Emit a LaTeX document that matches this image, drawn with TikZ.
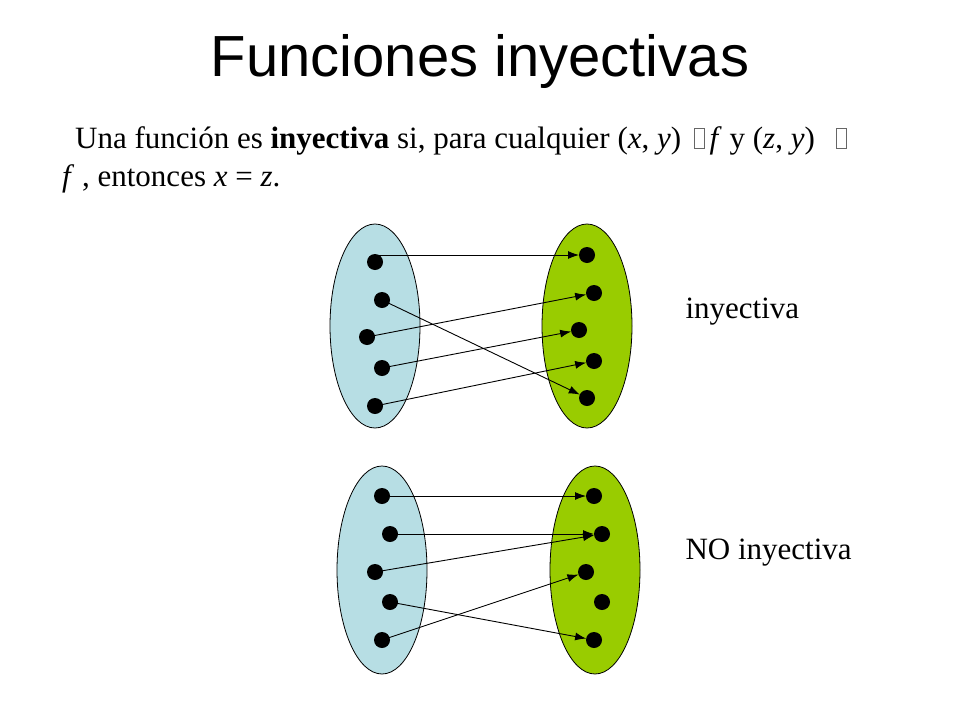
\documentclass[tikz,border=0pt]{standalone}
\usepackage{fontspec}
\setmainfont{Liberation Serif}
\newfontfamily\titlefont{Liberation Sans}
\usetikzlibrary{arrows.meta}

\definecolor{setblue}{RGB}{183,222,228}
\definecolor{setgreen}{RGB}{153,204,0}
\tikzset{
    dot/.style={circle, fill=black, inner sep=0pt, minimum size=16pt},
    setA/.style={draw, line width=0.8pt, fill=setblue},
    setB/.style={draw, line width=0.8pt, fill=setgreen},
    map/.style={line width=0.9pt, -{Latex[length=11pt,width=8pt]}, shorten >=8pt},
    lbl/.style={anchor=west, font=\fontsize{31}{36}\selectfont}
}
\newcommand{\gapbox}{\,\tikz[baseline=0pt]\draw[line width=0.4pt, black!60] (0,0) rectangle (10pt,20pt);\,}

\begin{document}
\begin{tikzpicture}[x=1pt, y=-1pt]
    \useasboundingbox (0, 0) rectangle (960, 720);

    \node (title) at (480, 62) {\titlefont\fontsize{58}{66}\selectfont Funciones inyectivas};
    \node [anchor=base west, inner sep=0pt, font=\fontsize{31}{36}\selectfont] (line1) at (75, 148)
        {Una función es \textbf{inyectiva} si, para cualquier (\textit{x}, \textit{y}) \gapbox\textit{f} y (\textit{z}, \textit{y}) \ \gapbox};
    \node [anchor=base west, inner sep=0pt, font=\fontsize{31}{36}\selectfont] (line2) at (62, 186)
        {\textit{f} , entonces \textit{x} = \textit{z}.};

    % first picture
    \draw [setA] (375, 326) ellipse [x radius=45, y radius=102];
    \draw [setB] (587, 326) ellipse [x radius=45, y radius=102];
    \node [dot] (a1) at (375, 262) {};
    \node [dot] (a2) at (382, 300) {};
    \node [dot] (a3) at (367, 337) {};
    \node [dot] (a4) at (382, 368) {};
    \node [dot] (a5) at (375, 406) {};
    \node [dot] (b1) at (587, 255) {};
    \node [dot] (b2) at (594, 293) {};
    \node [dot] (b3) at (579, 330) {};
    \node [dot] (b4) at (594, 361) {};
    \node [dot] (b5) at (587, 398) {};
    \draw [map] (a1.center |- b1.center) -- (b1.center);
    \draw [map] (a2.center) -- (b5.center);
    \draw [map] (a3.center) -- (b2.center);
    \draw [map] (a4.center) -- (b3.center);
    \draw [map] (a5.center) -- (b4.center);
    \node [lbl] (inj) at (682, 312) {inyectiva};

    % second picture
    \draw [setA] (382, 570) ellipse [x radius=45, y radius=104];
    \draw [setB] (595, 570) ellipse [x radius=45, y radius=104];
    \node [dot] (c1) at (382, 496) {};
    \node [dot] (c2) at (390, 534) {};
    \node [dot] (c3) at (375, 572) {};
    \node [dot] (c4) at (390, 602) {};
    \node [dot] (c5) at (382, 640) {};
    \node [dot] (d1) at (594, 496) {};
    \node [dot] (d2) at (602, 534) {};
    \node [dot] (d3) at (586, 572) {};
    \node [dot] (d4) at (602, 602) {};
    \node [dot] (d5) at (594, 640) {};
    \draw [map] (c1.center) -- (d1.center);
    \draw [map] (c2.center) -- (d2.center);
    \draw [map] (c3.center) -- (d2.center);
    \draw [map] (c4.center) -- (d5.center);
    \draw [map] (c5.center) -- (d3.center);
    \node [lbl] (noinj) at (682, 553) {NO inyectiva};
\end{tikzpicture}
\end{document}
